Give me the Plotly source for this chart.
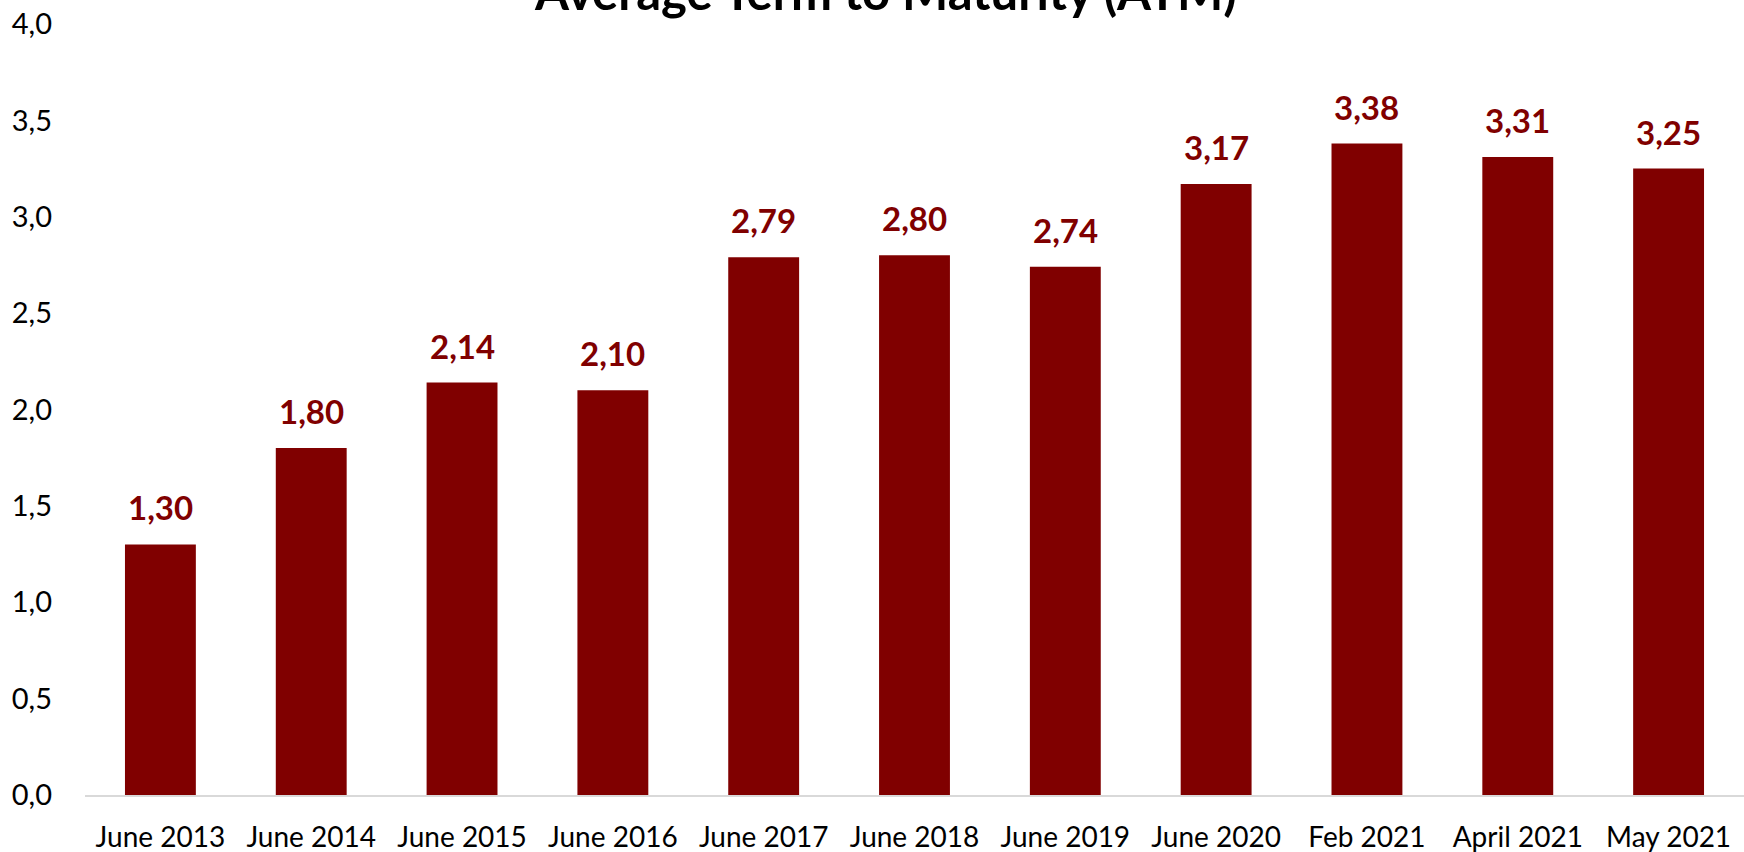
import plotly.graph_objects as go

categories = ["June 2013", "June 2014", "June 2015", "June 2016", "June 2017", "June 2018",
              "June 2019", "June 2020", "Feb 2021", "April 2021", "May 2021"]
values = [1.30, 1.80, 2.14, 2.10, 2.79, 2.80, 2.74, 3.17, 3.38, 3.31, 3.25]
labels = [f"{v:.2f}".replace(".", ",") for v in values]
y_ticks = [0, 0.5, 1.0, 1.5, 2.0, 2.5, 3.0, 3.5, 4.0]
y_tick_labels = [f"{t:.1f}".replace(".", ",") for t in y_ticks]
title = "Average Term to Maturity (ATM)"

FONT = "Lato"
MAROON = "#800000"

fig = go.Figure(go.Bar(x=categories, y=values, marker=dict(color=MAROON, line=dict(width=0))))

for c, v, t in zip(categories, values, labels):
    fig.add_annotation(x=c, y=v, text=f"<b>{t}</b>", showarrow=False, yanchor="bottom",
                       yshift=15, font=dict(family=FONT, size=33, color=MAROON))

fig.update_layout(
    width=1744, height=852,
    margin=dict(l=85, r=0, t=24, b=57),
    paper_bgcolor="white", plot_bgcolor="white",
    bargap=0.53,
    showlegend=False,
    title=dict(text=f"<b>{title}</b>", x=0.508, xanchor="center", y=1 - 10 / 852,
               yanchor="bottom", yref="container", font=dict(family=FONT, size=49, color="black")),
    font=dict(family=FONT, size=28, color="black"),
)
fig.update_xaxes(showline=True, linecolor="#d9d9d9", linewidth=2, ticks="", showgrid=False,
                 ticklabelstandoff=16,
                 tickfont=dict(family=FONT, size=28, color="black"))
fig.update_yaxes(range=[0, 4], tickvals=y_ticks, ticktext=y_tick_labels, showgrid=False,
                 zeroline=False, showline=False, ticks="", ticklabelstandoff=32,
                 tickfont=dict(family=FONT, size=29, color="black"))

fig.write_html("out.html")
